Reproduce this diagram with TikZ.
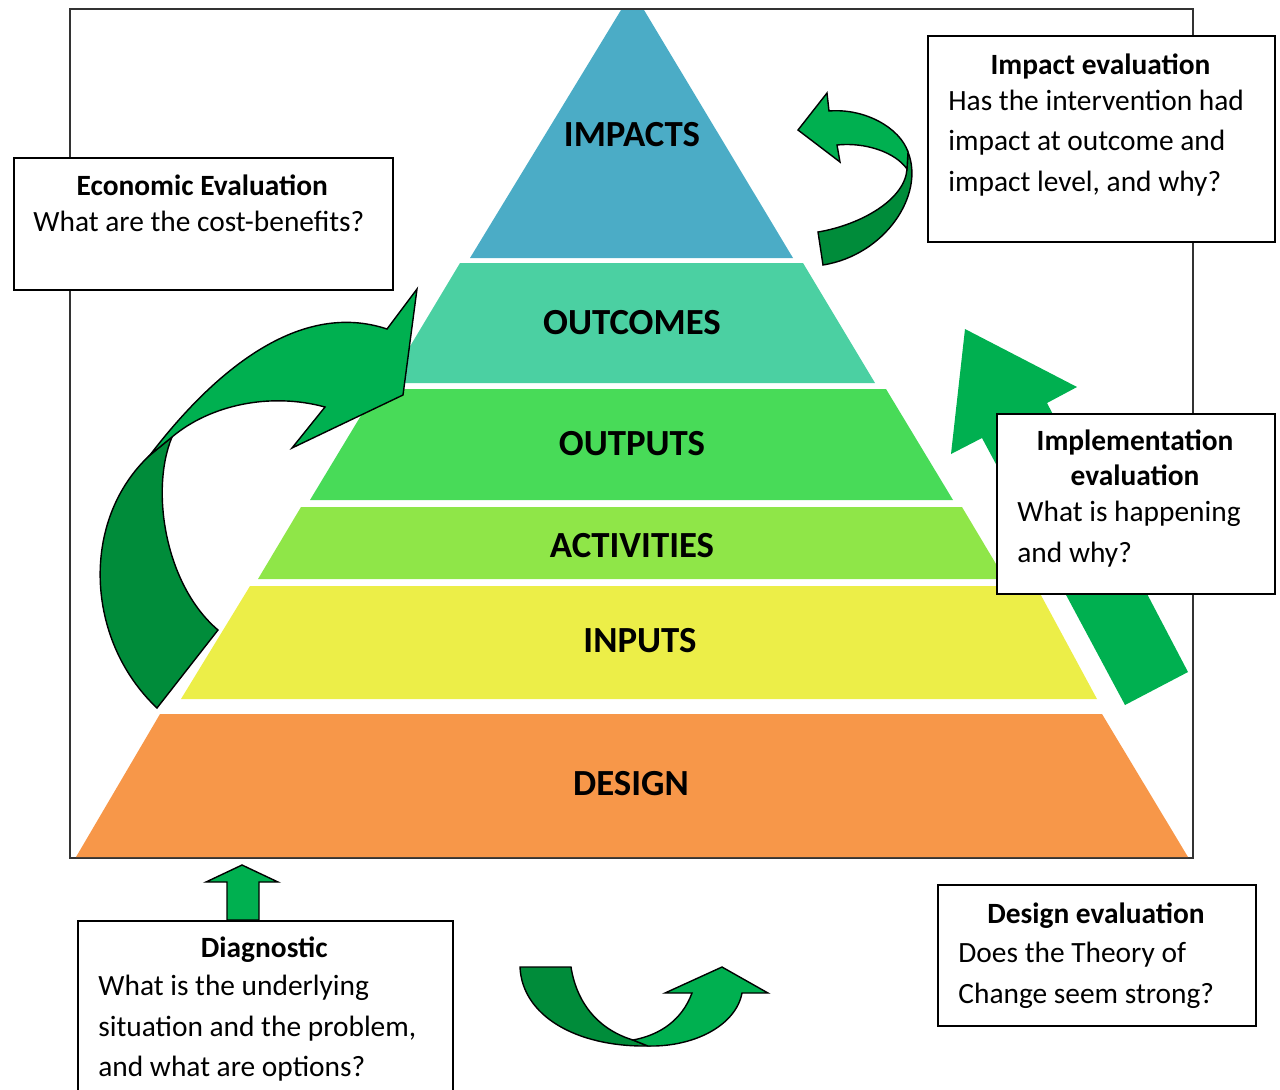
\documentclass[tikz,border=0pt]{standalone}
\usepackage{fontspec}
\setmainfont{Carlito}

\definecolor{impactblue}{RGB}{75,172,198}
\definecolor{outcometeal}{RGB}{75,208,162}
\definecolor{outputgreen}{RGB}{72,219,88}
\definecolor{activitygreen}{RGB}{143,230,72}
\definecolor{inputyellow}{RGB}{236,238,72}
\definecolor{designorange}{RGB}{247,151,73}
\definecolor{arrowlight}{RGB}{0,176,80}
\definecolor{arrowdark}{RGB}{0,140,58}

\begin{document}
\begin{tikzpicture}[x=0.5pt,y=-0.5pt]

% Define styles
\tikzstyle{layerlabel} = [font=\fontsize{18.4}{21}\selectfont\bfseries, anchor=base, inner sep=0pt]
\tikzstyle{evalbox} = [rectangle, draw=black, line width=1pt, fill=white, anchor=north west, inner sep=0pt]
\tikzstyle{boxtitle} = [font=\fontsize{14.7}{17}\selectfont\bfseries, anchor=base, inner sep=0pt]
\tikzstyle{boxtext} = [font=\fontsize{14.7}{17}\selectfont, anchor=base west, inner sep=0pt]
\tikzstyle{bendarrow} = [draw=black, line width=0.7pt, line join=miter]

\useasboundingbox (0,0) rectangle (1280,1089);

% Frame
\draw [black!80, line width=1pt] (70,9) rectangle (1193,858);

% Pyramid layers
\fill [impactblue] (621,10) -- (644,10) -- (793,258) -- (470,258) -- cycle;
\fill [outcometeal] (460,263) -- (803,263) -- (875,383) -- (388,383) -- cycle;
\fill [outputgreen] (377,389) -- (886,389) -- (953,500) -- (310,500) -- cycle;
\fill [activitygreen] (301,507) -- (962,507) -- (1005,579) -- (258,579) -- cycle;
\fill [inputyellow] (250,586) -- (1036,586) -- (1097,699) -- (181,699) -- cycle;
\fill [designorange] (160,714) -- (1102,714) -- (1188,857) -- (76,857) -- cycle;

\node (impacts) [layerlabel] at (632,146) {IMPACTS};
\node (outcomes) [layerlabel] at (632,334) {OUTCOMES};
\node (outputs) [layerlabel] at (632,455) {OUTPUTS};
\node (activities) [layerlabel] at (632,557) {ACTIVITIES};
\node (inputs) [layerlabel] at (640,652) {INPUTS};
\node (design) [layerlabel] at (631,795) {DESIGN};

% Curved arrow on the left
\filldraw [bendarrow, fill=arrowdark] (157,708) -- (218,630)
  .. controls (165,585) and (150,490) .. (172,437) -- (150,455)
  .. controls (80,520) and (85,640) .. (157,708) -- cycle;
\filldraw [bendarrow, fill=arrowlight] (150,455)
  .. controls (215,370) and (300,300) .. (387,329) -- (417,289) -- (403,395)
  -- (292,448) -- (325,407) .. controls (270,392) and (210,405) .. (172,437) -- cycle;

% Curved arrow beside the impacts
\filldraw [bendarrow, fill=arrowdark] (908,152)
  .. controls (925,195) and (885,255) .. (823,265) -- (818,232)
  .. controls (860,225) and (905,200) .. (907,169) -- cycle;
\filldraw [bendarrow, fill=arrowlight] (837,145) -- (840,162) -- (798,130)
  -- (827,93) -- (829,111) .. controls (865,108) and (900,128) .. (908,152)
  -- (907,169) .. controls (895,152) and (865,142) .. (837,145) -- cycle;

% Straight arrow on the right
\fill [arrowlight] (965,329) -- (1077,387) -- (1047,403) -- (1188,672)
  -- (1125,705) -- (982,438) -- (951,454) -- cycle;

% Arrow under the pyramid
\filldraw [bendarrow, fill=arrowdark] (520,967) -- (571,967)
  .. controls (577,1005) and (600,1030) .. (633,1040) -- (648,1046)
  .. controls (575,1047) and (522,1015) .. (520,967) -- cycle;
\filldraw [bendarrow, fill=arrowlight] (633,1040) -- (648,1046)
  .. controls (695,1047) and (736,1025) .. (742,993) -- (768,993) -- (722,967)
  -- (665,993) -- (692,993) .. controls (682,1020) and (660,1035) .. (633,1040) -- cycle;

% Arrow above the diagnostic
\filldraw [bendarrow, fill=arrowlight] (227,920) -- (227,882) -- (206,882) -- (242,865)
  -- (278,882) -- (259,882) -- (259,920) -- cycle;

% Evaluation boxes
\node (econbox) [evalbox, minimum width=189.7pt, minimum height=66pt] at (12.7,157) {};
\node (econtitle) [boxtitle] at (202.3,195) {Economic Evaluation};
\node (econline) [boxtext] at (33,231.7) {What are the cost-benefits?};

\node (impactbox) [evalbox, minimum width=173.5pt, minimum height=103pt] at (927,35) {};
\node (impacttitle) [boxtitle] at (1100.5,74.3) {Impact evaluation};
\node (impactlinea) [boxtext] at (948,110) {Has the intervention had};
\node (impactlineb) [boxtext] at (948,150.7) {impact at outcome and};
\node (impactlinec) [boxtext] at (948,191.7) {impact level, and why?};

\node (implbox) [evalbox, minimum width=139pt, minimum height=90pt] at (996,413) {};
\node (impltitlea) [boxtitle] at (1135,450) {Implementation};
\node (impltitleb) [boxtitle] at (1135,485.7) {evaluation};
\node (impllinea) [boxtext] at (1017,521.7) {What is happening};
\node (impllineb) [boxtext] at (1017,562.3) {and why?};

\node (designbox) [evalbox, minimum width=159pt, minimum height=70.5pt] at (937,884) {};
\node (designtitle) [boxtitle] at (1096,923) {Design evaluation};
\node (designlinea) [boxtext] at (958,962) {Does the Theory of};
\node (designlineb) [boxtext] at (958,1003) {Change seem strong?};

\node (diagbox) [evalbox, minimum width=187.5pt, minimum height=90pt] at (77,920) {};
\node (diagtitle) [boxtitle] at (264.3,957.7) {Diagnostic};
\node (diaglinea) [boxtext] at (98,995) {What is the underlying};
\node (diaglineb) [boxtext] at (98,1036) {situation and the problem,};
\node (diaglinec) [boxtext] at (98,1076.7) {and what are options?};

\end{tikzpicture}
\end{document}
